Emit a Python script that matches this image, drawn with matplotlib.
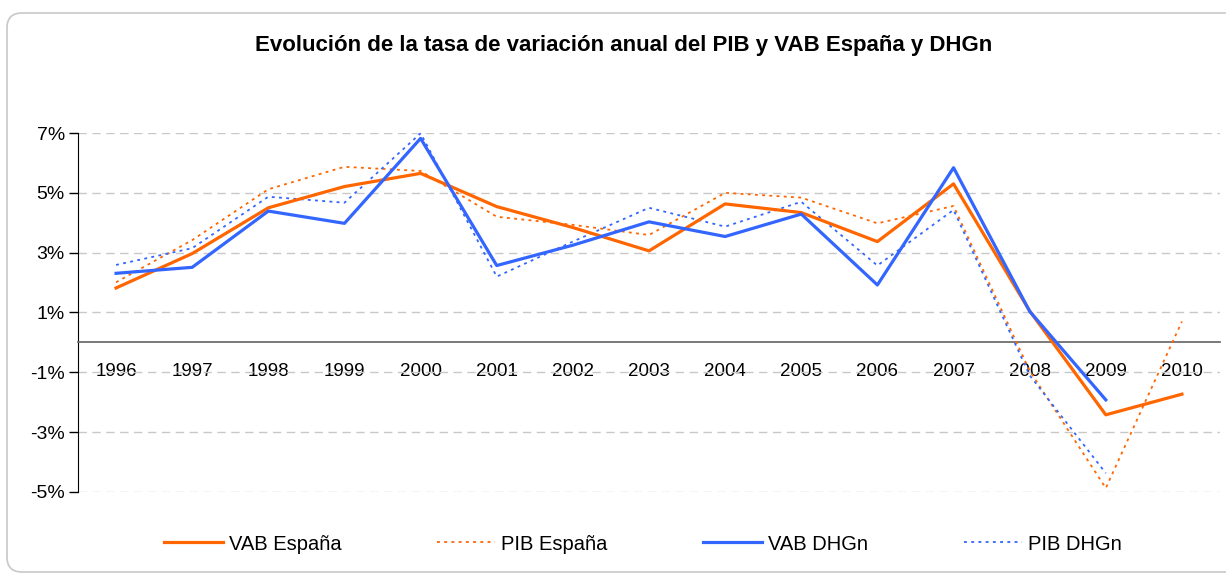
import numpy as np
import matplotlib
matplotlib.use("Agg")
import matplotlib.pyplot as plt
from matplotlib.patches import FancyBboxPatch

plt.rcParams["font.family"] = ["Liberation Sans", "DejaVu Sans"]

years = ["1996", "1997", "1998", "1999", "2000", "2001", "2002", "2003",
         "2004", "2005", "2006", "2007", "2008", "2009", "2010"]

vab_espana = [1.82, 2.97, 4.50, 5.21, 5.65, 4.54, 3.84, 3.06,
              4.63, 4.34, 3.37, 5.30, 1.05, -2.42, -1.73]
pib_espana = [2.01, 3.42, 5.12, 5.87, 5.73, 4.20, 3.93, 3.59,
              5.00, 4.84, 3.98, 4.56, -0.95, -4.87, 0.70]
vab_dhgn = [2.31, 2.51, 4.39, 3.98, 6.82, 2.57, 3.25, 4.03,
            3.54, 4.29, 1.92, 5.84, 1.04, -1.92, np.nan]
pib_dhgn = [2.59, 3.15, 4.87, 4.67, 6.99, 2.20, 3.37, 4.50,
            3.87, 4.70, 2.57, 4.43, -1.10, -4.37, np.nan]

y_ticks = [-5, -3, -1, 1, 3, 5, 7]

ORANGE = "#FF6600"
BLUE = "#3366FF"
DOTS = (0, (1.6, 2.4))

fig = plt.figure(figsize=(12.26, 5.74), dpi=100)

# rounded frame around the chart, drawn in pixel units on a background axes
bg = fig.add_axes([0, 0, 1, 1], zorder=-1)
bg.set_xlim(0, 1226)
bg.set_ylim(574, 0)
bg.axis("off")
bg.add_patch(FancyBboxPatch((7, 13), 1235, 559,
                            boxstyle="round,pad=0,rounding_size=15",
                            facecolor="none", edgecolor="#C8C8C8", linewidth=1.2))

ax = fig.add_axes([78 / 1226, 1 - 492 / 574, (1220 - 78) / 1226, (492 - 133) / 574])
ax.patch.set_alpha(0)
# zero line as the x axis (set before ticks, it resets them)
ax.spines["bottom"].set_position(("data", 0))

x = np.arange(len(years))
ax.plot(x, vab_espana, color=ORANGE, lw=2.3, label="VAB España", zorder=4)
ax.plot(x, pib_espana, color=ORANGE, lw=1.3, ls=DOTS, label="PIB España", zorder=3)
ax.plot(x, vab_dhgn, color=BLUE, lw=2.3, label="VAB DHGn", zorder=4)
ax.plot(x, pib_dhgn, color=BLUE, lw=1.3, ls=DOTS, label="PIB DHGn", zorder=3)

ax.set_xlim(-0.5, len(years) - 0.5)
ax.set_ylim(-5, 7)
ax.set_yticks(y_ticks)
ax.set_yticklabels([f"{v}%" for v in y_ticks])
ax.yaxis.grid(True, color="#C8C8C8", lw=1, ls=(0, (6, 4)))
ax.set_axisbelow(True)

ax.set_xticks(x)
ax.set_xticklabels(years)
ax.spines["bottom"].set_color("#6E6E6E")
ax.spines["bottom"].set_linewidth(1.3)
ax.spines["top"].set_visible(False)
ax.spines["right"].set_visible(False)
ax.spines["left"].set_color("black")
ax.tick_params(axis="x", length=0, pad=14.5, labelsize=13.5)
ax.tick_params(axis="y", length=6.5, width=1, direction="out", pad=3, labelsize=14)

fig.text(624 / 1226, 1 - 46 / 574,
         "Evolución de la tasa de variación anual del PIB y VAB España y DHGn",
         ha="center", va="center", fontsize=16, fontweight="bold")

fig.legend(loc="center", bbox_to_anchor=(643 / 1226, 1 - 544 / 574), ncol=4,
           frameon=False, fontsize=14.5, handlelength=2.9, handletextpad=0.3,
           columnspacing=4.75)

fig.savefig("out.png", dpi=100)
